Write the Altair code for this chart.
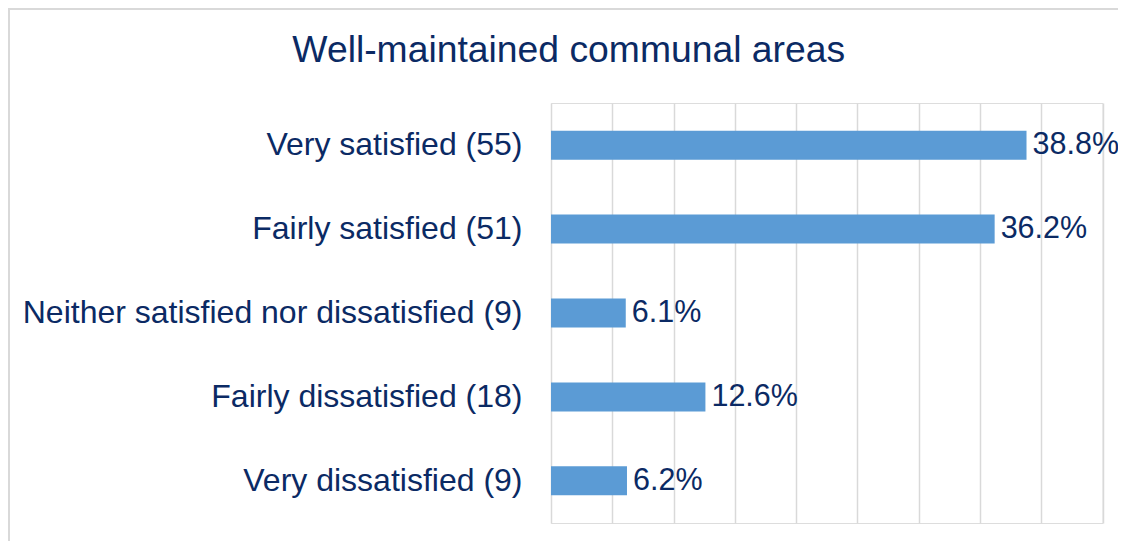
import altair as alt
import pandas as pd

categories = [
    "Very satisfied (55)",
    "Fairly satisfied (51)",
    "Neither satisfied nor dissatisfied (9)",
    "Fairly dissatisfied (18)",
    "Very dissatisfied (9)",
]
shares = [0.388, 0.362, 0.061, 0.126, 0.062]
grid_values = [0, 0.05, 0.10, 0.15, 0.20, 0.25, 0.30, 0.35, 0.40, 0.45]

df = pd.DataFrame({"category": categories, "share": shares})

NAVY = "#0B2A64"
BAR = "#5B9BD5"
FONT = "Liberation Sans"
FS = 32
FS_VAL = 30.5

x_enc = alt.X(
    "share:Q",
    scale=alt.Scale(domain=[0, 0.45], nice=False, zero=True),
    axis=alt.Axis(
        values=grid_values, labels=False, ticks=False, domain=False,
        grid=True, gridColor="#D9D9D9", gridWidth=1.5, title=None,
    ),
)
y_enc = alt.Y(
    "category:N",
    sort=categories,
    scale=alt.Scale(paddingInner=0.655, paddingOuter=0.33),
    axis=alt.Axis(
        title=None, ticks=False, domain=False, grid=False,
        labelFont=FONT, labelFontSize=FS, labelColor=NAVY,
        labelPadding=29, labelLimit=600,
    ),
)

base = alt.Chart(df)
bars = base.mark_bar(color=BAR).encode(x=x_enc, y=y_enc)
texts = base.mark_text(
    align="left", baseline="middle", dx=6, font=FONT, fontSize=FS_VAL, color=NAVY
).encode(x="share:Q", y=alt.Y("category:N", sort=categories), text=alt.Text("share:Q", format=".1%"))

border = alt.Chart(alt.Data(values=[{"b": 1}])).mark_rect(
    fill=None, stroke="#D9D9D9", strokeWidth=2, clip=False
).encode(
    x=alt.value(-542), x2=alt.value(700), y=alt.value(-94), y2=alt.value(600)
)

chart = alt.layer(border, bars, texts).properties(
    width=551.5,
    height=420,
    autosize=alt.AutoSizeParams(type="none"),
    padding={"left": 543, "top": 95, "right": 15.5, "bottom": 18},
    title=alt.TitleParams(
        "Well-maintained communal areas",
        font=FONT, fontSize=37.3, fontWeight="normal", color=NAVY,
        anchor="middle", frame="group", dx=-258, offset=-91,
        baseline="alphabetic",
    ),
).configure_view(stroke=None).configure(background="white")

chart.save("out.html", embed_options={"renderer": "svg", "actions": False})
